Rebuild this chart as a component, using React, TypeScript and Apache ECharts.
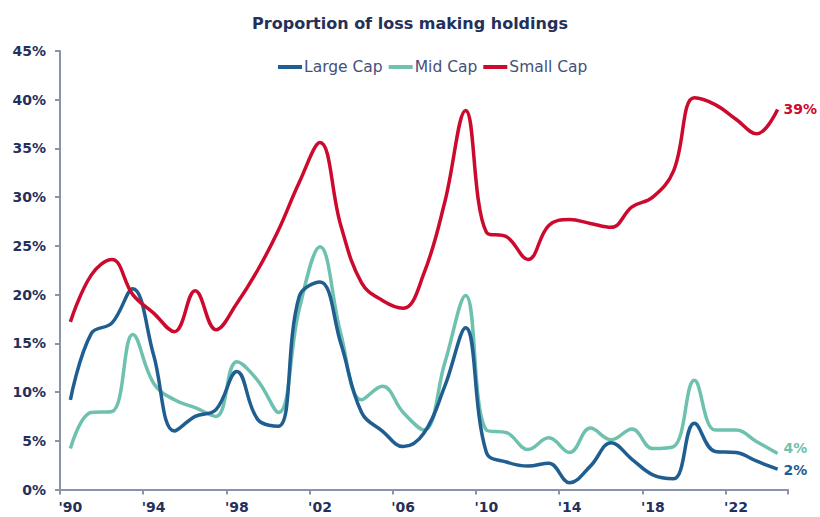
import React, { useEffect, useRef } from "react";
import * as echarts from "echarts";

const years: string[] = [];
for (let y = 1990; y <= 2024; y++) years.push(String(y));

const largeCap = [9.2, 16.0, 17.1, 20.6, 13.8, 6.0, 7.5, 8.2, 12.1, 7.2, 6.5, 19.8, 21.3, 15.0, 7.9, 6.0, 4.4, 5.8, 10.6, 16.6, 3.8, 2.8, 2.4, 2.7, 0.7, 2.4, 4.8, 3.1, 1.5, 1.1, 6.8, 3.9, 3.8, 2.9, 2.1];
const midCap = [4.2, 7.9, 8.0, 15.9, 10.9, 9.2, 8.4, 7.5, 13.1, 11.2, 7.9, 18.5, 24.9, 16.0, 9.2, 10.6, 7.9, 6.1, 13.0, 19.9, 6.1, 5.8, 4.1, 5.3, 3.8, 6.3, 5.1, 6.2, 4.2, 4.4, 11.2, 6.1, 6.1, 4.9, 3.7];
const smallCap = [17.2, 22.0, 23.6, 20.0, 18.1, 16.2, 20.4, 16.4, 19.1, 22.5, 26.6, 31.5, 35.6, 27.1, 21.2, 19.4, 18.6, 22.2, 29.5, 38.9, 26.4, 25.9, 23.6, 27.1, 27.7, 27.3, 26.9, 29.0, 30.0, 32.7, 40.2, 39.5, 38.0, 36.5, 39.0];

const seriesNames = ["Large Cap", "Mid Cap", "Small Cap"];
const seriesColors = ["#205E91", "#6FC1AF", "#CC0A2E"];
const seriesData = [largeCap, midCap, smallCap];
const endLabelOffsets = [[0, 1], [0, -5], [0, 0]];

const FONT = "DejaVu Sans";
const NAVY = "#25305A";

export default function App() {
  const ref = useRef<HTMLDivElement>(null);
  useEffect(() => {
    if (!ref.current) return;
    const chart = echarts.init(ref.current, undefined, { renderer: "svg" });
    chart.setOption({
      animation: false,
      backgroundColor: "#ffffff",
      textStyle: { fontFamily: FONT },
      title: {
        text: "Proportion of loss making holdings",
        left: "center",
        top: 10,
        textStyle: { fontFamily: FONT, fontSize: 16, fontWeight: "bold", color: NAVY },
      },
      legend: {
        left: 273,
        top: 54,
        icon: "rect",
        itemWidth: 24,
        itemHeight: 4,
        itemGap: 6,
        textStyle: { fontFamily: FONT, fontSize: 15.5, color: "#45507A", padding: [0, 0, 0, -3] },
        data: seriesNames,
      },
      grid: { left: 60, right: 32, top: 51, bottom: 27.5, containLabel: false },
      xAxis: {
        type: "category",
        data: years,
        boundaryGap: true,
        axisLine: { lineStyle: { color: "#8A93AD", width: 2 } },
        axisTick: { show: true, interval: 3, length: 5, lineStyle: { color: "#8A93AD", width: 2 } },
        axisLabel: {
          interval: 3,
          formatter: (v: string) => "'" + v.slice(2),
          color: NAVY,
          fontFamily: FONT,
          fontSize: 14,
          fontWeight: "bold",
          margin: 10,
        },
        splitLine: { show: false },
      },
      yAxis: {
        type: "value",
        min: 0,
        max: 45,
        interval: 5,
        axisLine: { show: true, lineStyle: { color: "#8A93AD", width: 2 } },
        axisTick: { show: true, length: 5, lineStyle: { color: "#8A93AD", width: 2 } },
        axisLabel: {
          formatter: "{value}%",
          color: NAVY,
          fontFamily: FONT,
          fontSize: 14,
          fontWeight: "bold",
          margin: 14,
        },
        splitLine: { show: false },
      },
      series: seriesNames.map((name, i) => ({
        name,
        type: "line",
        data: seriesData[i],
        smooth: 0.4,
        symbol: "none",
        lineStyle: { color: seriesColors[i], width: 3.5 },
        itemStyle: { color: seriesColors[i] },
        endLabel: {
          show: true,
          formatter: (p: any) => Math.round(p.value) + "%",
          color: seriesColors[i],
          fontFamily: FONT,
          fontSize: 14,
          fontWeight: "bold",
          distance: 6,
          offset: endLabelOffsets[i],
        },
        z: i === 2 ? 3 : i === 0 ? 2 : 1,
      })),
    });
    return () => chart.dispose();
  }, []);
  return (
    <div
      ref={ref}
      style={{ position: "fixed", left: 0, top: 0, width: 820, height: 517 }}
    />
  );
}
